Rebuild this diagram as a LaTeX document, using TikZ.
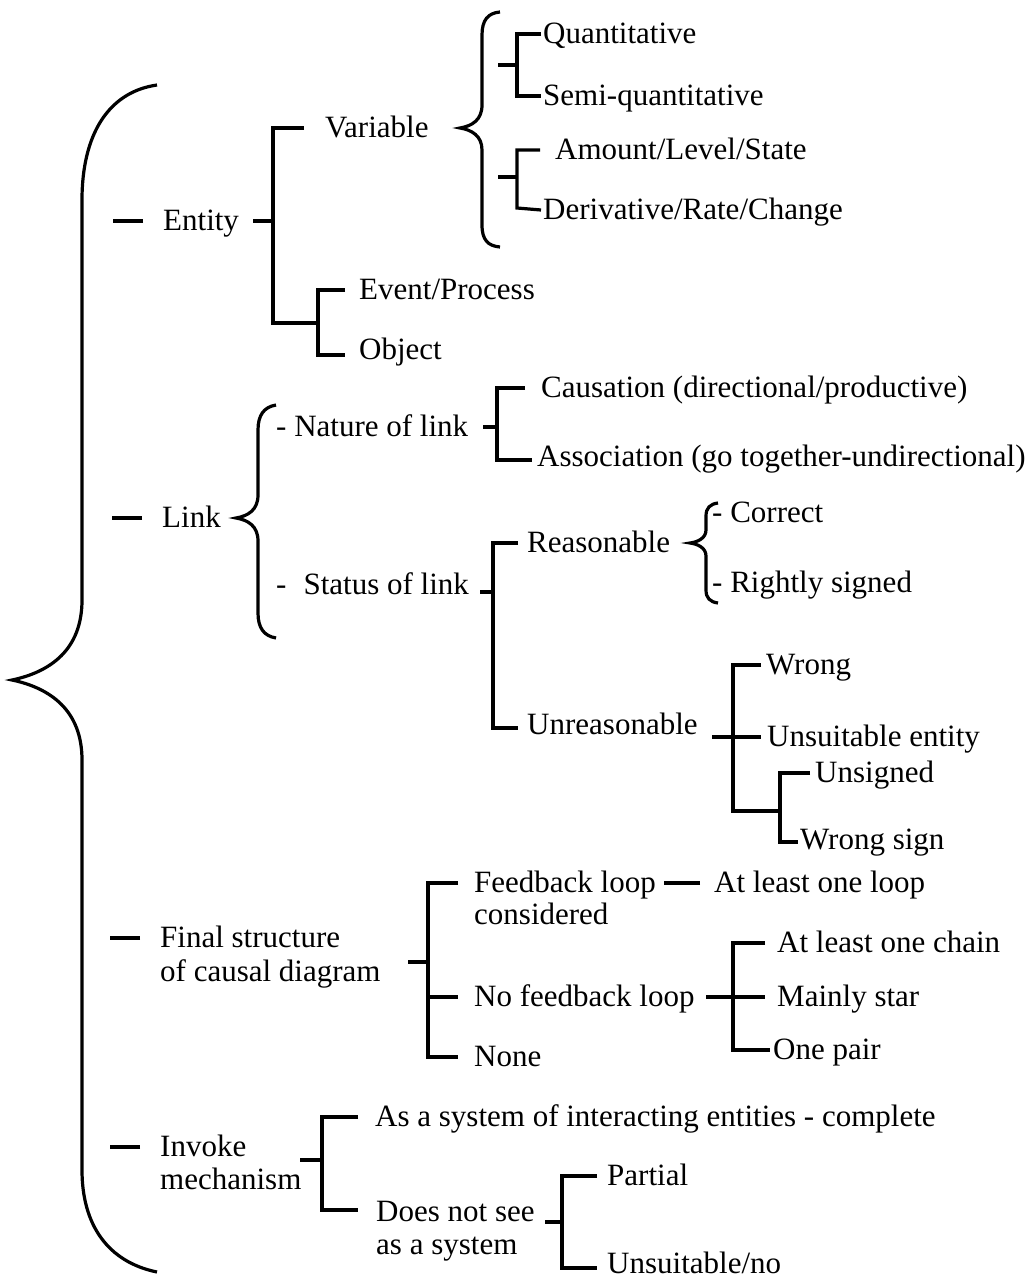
\documentclass[tikz,border=0pt]{standalone}
\usepackage{fontspec}
\setmainfont{Liberation Serif}
\begin{document}
\begin{tikzpicture}[x=1pt,y=-1pt,
  br/.style={line width=3.2pt},
  lbl/.style={anchor=west,inner sep=0pt,font=\fontsize{31}{36}\selectfont,
              text height=20.4pt,text depth=1pt}]
\useasboundingbox[fill=white] (0,0) rectangle (1034,1284);

% ---------- text ----------
\node[lbl] (ent)  at (163,221) {Entity};
\node[lbl] (var)  at (325,128) {Variable};
\node[lbl] (evp)  at (359,290) {Event/Process};
\node[lbl] (obj)  at (359,350) {Object};
\node[lbl] (qua)  at (543,34)  {Quantitative};
\node[lbl] (semi) at (543,96)  {Semi-quantitative};
\node[lbl] (amt)  at (555,150) {Amount/Level/State};
\node[lbl] (der)  at (543,210) {Derivative/Rate/Change};

\node[lbl] (lnk)  at (162,518) {Link};
\node[lbl] (nat)  at (276,427) {- Nature of link};
\node[lbl] (cau)  at (541,388) {Causation (directional/productive)};
\node[lbl] (ass)  at (537,457) {Association (go together-undirectional)};
\node[lbl] (sta)  at (276,585) {-\hskip0.55em Status of link};
\node[lbl] (rea)  at (527,543) {Reasonable};
\node[lbl] (cor)  at (712,513) {- Correct};
\node[lbl] (rig)  at (712,583) {- Rightly signed};
\node[lbl] (unr)  at (527,725) {Unreasonable};
\node[lbl] (wro)  at (766,665) {Wrong};
\node[lbl] (use)  at (767,737) {Unsuitable entity};
\node[lbl] (uns)  at (815,773) {Unsigned};
\node[lbl] (wsi)  at (800,840) {Wrong sign};

\node[lbl] (fin1) at (160,938) {Final structure};
\node[lbl] (fin2) at (160,972) {of causal diagram};
\node[lbl] (fb1)  at (474,883) {Feedback loop};
\node[lbl] (fb2)  at (474,915) {considered};
\node[lbl] (alo)  at (714,883) {At least one loop};
\node[lbl] (nfb)  at (474,997) {No feedback loop};
\node[lbl] (non)  at (474,1057) {None};
\node[lbl] (alc)  at (777,943) {At least one chain};
\node[lbl] (mst)  at (777,997) {Mainly star};
\node[lbl] (opr)  at (773,1050) {One pair};

\node[lbl] (inv1) at (160,1147) {Invoke};
\node[lbl] (inv2) at (160,1180) {mechanism};
\node[lbl] (asy)  at (375,1117) {As a system of interacting entities - complete};
\node[lbl] (dns1) at (376,1212) {Does not see};
\node[lbl] (dns2) at (376,1245) {as a system};
\node[lbl] (par)  at (607,1176) {Partial};
\node[lbl] (unno) at (607,1264) {Unsuitable/no};

% ---------- main brace ----------
\draw[br] (157,85) .. controls (108,92) and (82,135) .. (82,200) -- (82,600)
  .. controls (82,650) and (50,672) .. (12,680)
  .. controls (50,688) and (82,710) .. (82,760) -- (82,1170)
  .. controls (82,1225) and (108,1262) .. (157,1272);

% level-one dashes
\foreach \n in {ent,lnk,fin1,inv1}
  \draw[br] ([xshift=-20pt]\n.west) -- ++(-30,0);

% ---------- Entity ----------
\coordinate (sE) at (273,221);
\draw[br] ([xshift=-21pt]var.west) -| (sE) -- (273,323) -- (318,323);
\draw[br] (sE) -- ++(-20,0);
\draw[br] ([xshift=-14pt]evp.west) -| (318,355) -- ([xshift=-14pt]obj.west |- 0,355);

% Variable brace
\draw[br] (500,12) .. controls (488,13) and (482,20) .. (482,35) -- (482,105)
  .. controls (482,120) and (472,126) .. (460,128)
  .. controls (472,130) and (482,136) .. (482,150) -- (482,225)
  .. controls (482,240) and (488,246) .. (500,247);
\draw[br] ([xshift=-2pt]qua.west) -| (517,96) -- ([xshift=-2pt]semi.west);
\draw[br] (498,65) -- (517,65);
\draw[br] ([xshift=-15pt]amt.west) -| (517,208) -- ([xshift=-2pt]der.west);
\draw[br] (498,177) -- (517,177);

% ---------- Link ----------
\draw[br] (276,405) .. controls (264,407) and (258,415) .. (258,430) -- (258,495)
  .. controls (258,510) and (248,516) .. (236,518)
  .. controls (248,520) and (258,526) .. (258,541) -- (258,613)
  .. controls (258,628) and (264,636) .. (276,638);

\draw[br] ([xshift=-16pt]cau.west) -| (497,460) -- ([xshift=-5pt]ass.west |- 0,460);
\draw[br] (483,427) -- (497,427);

\draw[br] ([xshift=-9pt]rea.west) -| (493,728) -- ([xshift=-9pt]unr.west |- 0,728);
\draw[br] (480,592) -- (493,592);

% Reasonable brace
\draw[br] (718,503) .. controls (710,504) and (706,508) .. (706,516) -- (706,530)
  .. controls (706,538) and (698,542) .. (690,543)
  .. controls (698,544) and (706,548) .. (706,556) -- (706,590)
  .. controls (706,598) and (710,602) .. (718,603);

% Unreasonable
\draw[br] ([xshift=-5pt]wro.west) -| (733,811) -- (780,811);
\draw[br] (712,737) -- ([xshift=-6pt]use.west);
\draw[br] ([xshift=-5pt]uns.west) -| (780,842) -- ([xshift=-2pt]wsi.west |- 0,842);

% ---------- Final structure ----------
\draw[br] ([xshift=-16pt]fb1.west) -| (428,1057) -- ([xshift=-16pt]non.west);
\draw[br] (428,997) -- ([xshift=-16pt]nfb.west);
\draw[br] (408,962) -- (428,962);
\draw[br] ([xshift=-14pt]alo.west) -- ([xshift=8pt]fb1.east);

\draw[br] ([xshift=-12pt]alc.west) -| (733,1050) -- ([xshift=-3pt]opr.west);
\draw[br] (706,997) -- ([xshift=-12pt]mst.west);

% ---------- Invoke mechanism ----------
\draw[br] ([xshift=-17pt]asy.west) -| (322,1210) -- ([xshift=-18pt]dns1.west |- 0,1210);
\draw[br] (300,1160) -- (322,1160);
\draw[br] ([xshift=-10pt]par.west) -| (562,1268) -- ([xshift=-10pt]unno.west |- 0,1268);
\draw[br] (545,1222) -- (562,1222);
\end{tikzpicture}
\end{document}
